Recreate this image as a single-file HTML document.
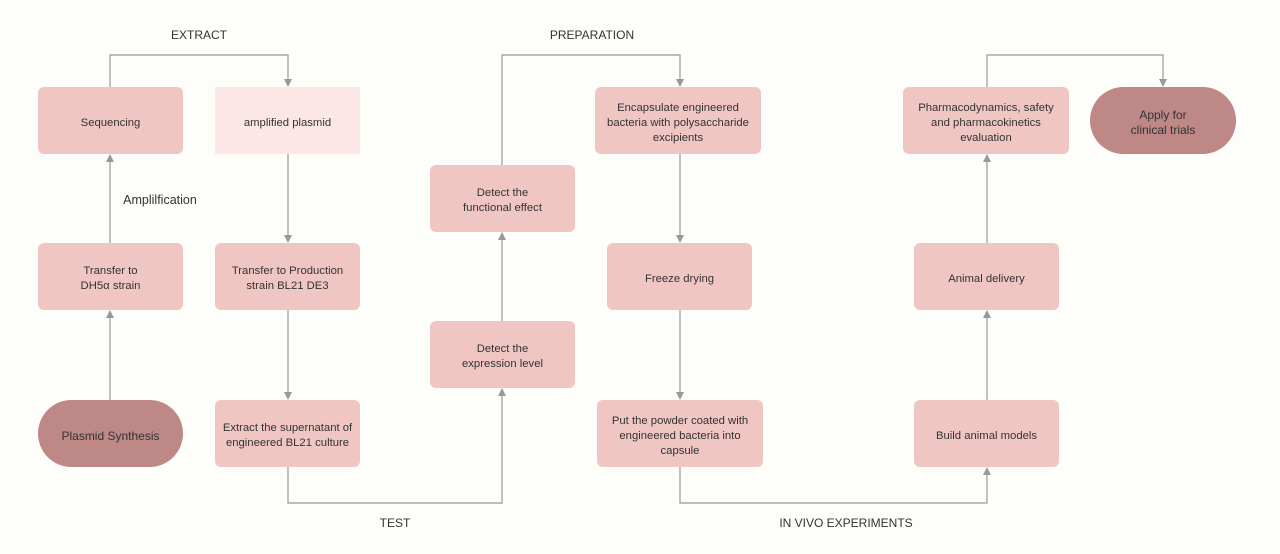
<!DOCTYPE html>
<html><head><meta charset="utf-8"><style>
body{margin:0;width:1280px;height:554px;background:#fdfdf9;font-family:"Liberation Sans",sans-serif;overflow:hidden;position:relative}
.b{position:absolute;box-sizing:border-box;padding-top:5px;background:#f0c6c2;border-radius:6px;display:flex;align-items:center;justify-content:center;text-align:center;font-size:11.3px;line-height:15px;color:#333}
.p{background:#bd8886;border-radius:34px;font-size:12px}
.l{position:absolute;font-size:12px;color:#333;transform:translateX(-50%)}
svg{position:absolute;left:0;top:0}
</style></head><body>
<svg width="1280" height="554"><defs><marker id="a" markerWidth="8" markerHeight="8" refX="4" refY="7" markerUnits="userSpaceOnUse"><path d="M0,0 L8,0 L4,8z" fill="#999"/></marker>
<marker id="u" markerWidth="8" markerHeight="8" refX="4" refY="1" markerUnits="userSpaceOnUse"><path d="M0,8 L8,8 L4,0z" fill="#999"/></marker></defs>
<g stroke="#999" stroke-width="1.2" fill="none">
<path d="M110,87V55H288V86" marker-end="url(#a)"/>
<path d="M288,154V242" marker-end="url(#a)"/>
<path d="M288,310V399" marker-end="url(#a)"/>
<path d="M288,467V503H502V389" marker-end="url(#u)"/>
<path d="M502,321V233" marker-end="url(#u)"/>
<path d="M502,165V55H680V86" marker-end="url(#a)"/>
<path d="M680,154V242" marker-end="url(#a)"/>
<path d="M680,310V399" marker-end="url(#a)"/>
<path d="M680,467V503H987V468" marker-end="url(#u)"/>
<path d="M987,400V311" marker-end="url(#u)"/>
<path d="M987,243V155" marker-end="url(#u)"/>
<path d="M987,87V55H1163V86" marker-end="url(#a)"/>
<path d="M110,243V155" marker-end="url(#u)"/>
<path d="M110,400V311" marker-end="url(#u)"/>
</g></svg>
<div class="l" style="left:199px;top:28px">EXTRACT</div>
<div class="l" style="left:592px;top:28px">PREPARATION</div>
<div class="l" style="left:395px;top:516px">TEST</div>
<div class="l" style="left:846px;top:516px">IN VIVO EXPERIMENTS</div>
<div class="l" style="left:160px;top:193px;font-size:12.5px">Amplilfication</div>
<div class="b" style="left:38px;top:87px;width:145px;height:67px">Sequencing</div>
<div class="b" style="left:215px;top:87px;width:145px;height:67px;background:#fce6e6;border-radius:0">amplified plasmid</div>
<div class="b" style="left:38px;top:243px;width:145px;height:67px">Transfer to<br>DH5α strain</div>
<div class="b" style="left:215px;top:243px;width:145px;height:67px">Transfer to Production<br>strain BL21 DE3</div>
<div class="b p" style="left:38px;top:400px;width:145px;height:67px">Plasmid Synthesis</div>
<div class="b" style="left:215px;top:400px;width:145px;height:67px">Extract the supernatant of<br>engineered BL21 culture</div>
<div class="b" style="left:430px;top:165px;width:145px;height:67px">Detect the<br>functional effect</div>
<div class="b" style="left:430px;top:321px;width:145px;height:67px">Detect the<br>expression level</div>
<div class="b" style="left:595px;top:87px;width:166px;height:67px">Encapsulate engineered<br>bacteria with polysaccharide<br>excipients</div>
<div class="b" style="left:607px;top:243px;width:145px;height:67px">Freeze drying</div>
<div class="b" style="left:597px;top:400px;width:166px;height:67px">Put the powder coated with<br>engineered bacteria into<br>capsule</div>
<div class="b" style="left:903px;top:87px;width:166px;height:67px">Pharmacodynamics, safety<br>and pharmacokinetics<br>evaluation</div>
<div class="b" style="left:914px;top:243px;width:145px;height:67px">Animal delivery</div>
<div class="b" style="left:914px;top:400px;width:145px;height:67px">Build animal models</div>
<div class="b p" style="left:1090px;top:87px;width:146px;height:67px">Apply for<br>clinical trials</div>
</body></html>
